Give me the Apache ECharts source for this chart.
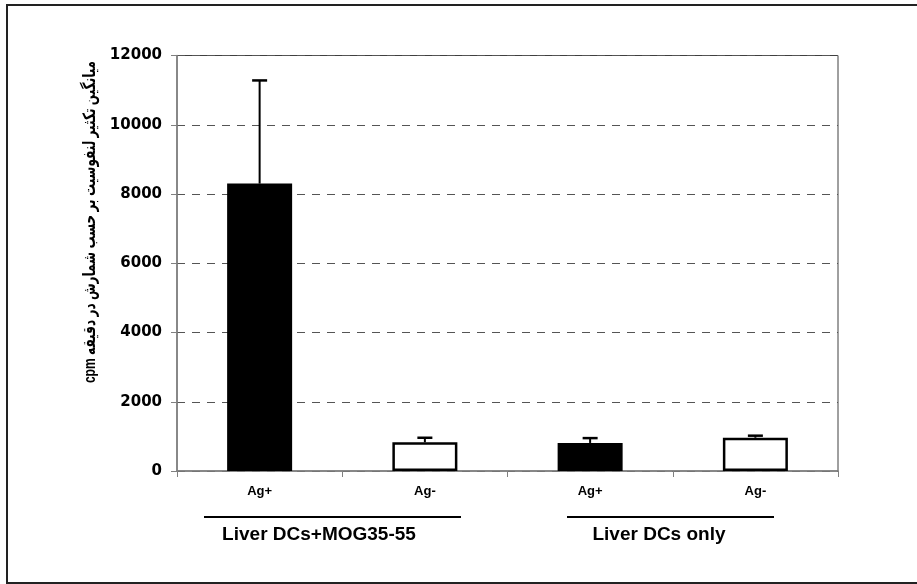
<!DOCTYPE html>
<html><head><meta charset="utf-8">
<script src="https://cdn.jsdelivr.net/npm/echarts@6/dist/echarts.min.js"></script>
<style>html,body{margin:0;padding:0;background:#fff}#c{width:917px;height:584px}</style>
</head><body><div id="c"></div>
<script>
const categories = ['Ag+', 'Ag-', 'Ag+', 'Ag-'];
const means = [8300, 830, 810, 960];
const errUpper = [11280, 960, 950, 1020];
const groupLabels = ['Liver DCs+MOG35-55', 'Liver DCs only'];
const yTitle = 'cpm میانگین تکثیر لنفوسیت بر حسب شمارش در دقیقه';
const yMin = 0, yMax = 12000, yStep = 2000;

const chart = echarts.init(document.getElementById('c'), null, {renderer: 'canvas'});
const fillFor = i => (i % 2 === 0 ? '#000000' : '#ffffff');

chart.setOption({
  animation: false,
  backgroundColor: '#ffffff',
  grid: {left: 177, right: 79, top: 55.5, bottom: 113, show: true, borderColor: '#404040', borderWidth: 1, backgroundColor: 'transparent'},
  xAxis: {
    type: 'category', data: categories, boundaryGap: true,
    axisLine: {lineStyle: {color: '#808080', width: 1.5}},
    axisTick: {show: true, length: 6, lineStyle: {color: '#808080'}},
    axisLabel: {color: '#000', fontWeight: 'bold', fontSize: 13, fontFamily: 'Liberation Sans, Arial, sans-serif', margin: 14}
  },
  yAxis: {
    type: 'value', min: yMin, max: yMax, interval: yStep,
    axisLine: {show: true, lineStyle: {color: '#808080', width: 1.5}},
    axisTick: {show: true, length: 6, lineStyle: {color: '#808080'}},
    axisLabel: {color: '#000', fontWeight: 'bold', fontSize: 15, fontFamily: 'DejaVu Sans, sans-serif', margin: 15,
      formatter: v => String(v)},
    splitLine: {show: true, lineStyle: {color: '#555', type: [8, 7], width: 1}}
  },
  series: [
    {
      type: 'bar', barWidth: 65,
      data: means.map((v, i) => ({value: v, itemStyle: {color: fillFor(i)}})),
      itemStyle: {borderColor: '#000', borderWidth: 2.5}
    },
    {
      type: 'custom',
      z: 5,
      data: means.map((v, i) => [i, v, errUpper[i]]),
      renderItem: function (params, api) {
        const base = api.coord([api.value(0), api.value(1)]);
        const top = api.coord([api.value(0), api.value(2)]);
        const half = 7.5;
        return {
          type: 'group',
          children: [
            {type: 'line', shape: {x1: base[0], y1: base[1], x2: top[0], y2: top[1]}, style: {stroke: '#000', lineWidth: 2}},
            {type: 'line', shape: {x1: top[0] - half, y1: top[1], x2: top[0] + half, y2: top[1]}, style: {stroke: '#000', lineWidth: 2.5}}
          ]
        };
      }
    }
  ],
  graphic: [
    {type: 'rect', shape: {x: 7, y: 5, width: 915, height: 578}, style: {fill: 'none', stroke: '#222', lineWidth: 2}, silent: true},
    {type: 'text', x: 90, y: 222, rotation: Math.PI / 2, scaleX: 0.71, scaleY: 1,
      style: {text: yTitle, fill: '#000', font: 'bold 17px "Liberation Sans", "DejaVu Sans", sans-serif', align: 'center', verticalAlign: 'middle'}},
    {type: 'line', shape: {x1: 204, y1: 517, x2: 461, y2: 517}, style: {stroke: '#000', lineWidth: 2}},
    {type: 'line', shape: {x1: 567, y1: 517, x2: 774, y2: 517}, style: {stroke: '#000', lineWidth: 2}},
    {type: 'text', x: 319, y: 535, style: {text: groupLabels[0], fill: '#000', font: 'bold 19px "Liberation Sans", Arial, sans-serif', align: 'center', verticalAlign: 'middle'}},
    {type: 'text', x: 659, y: 535, style: {text: groupLabels[1], fill: '#000', font: 'bold 19px "Liberation Sans", Arial, sans-serif', align: 'center', verticalAlign: 'middle'}}
  ]
});
</script>
</body></html>
